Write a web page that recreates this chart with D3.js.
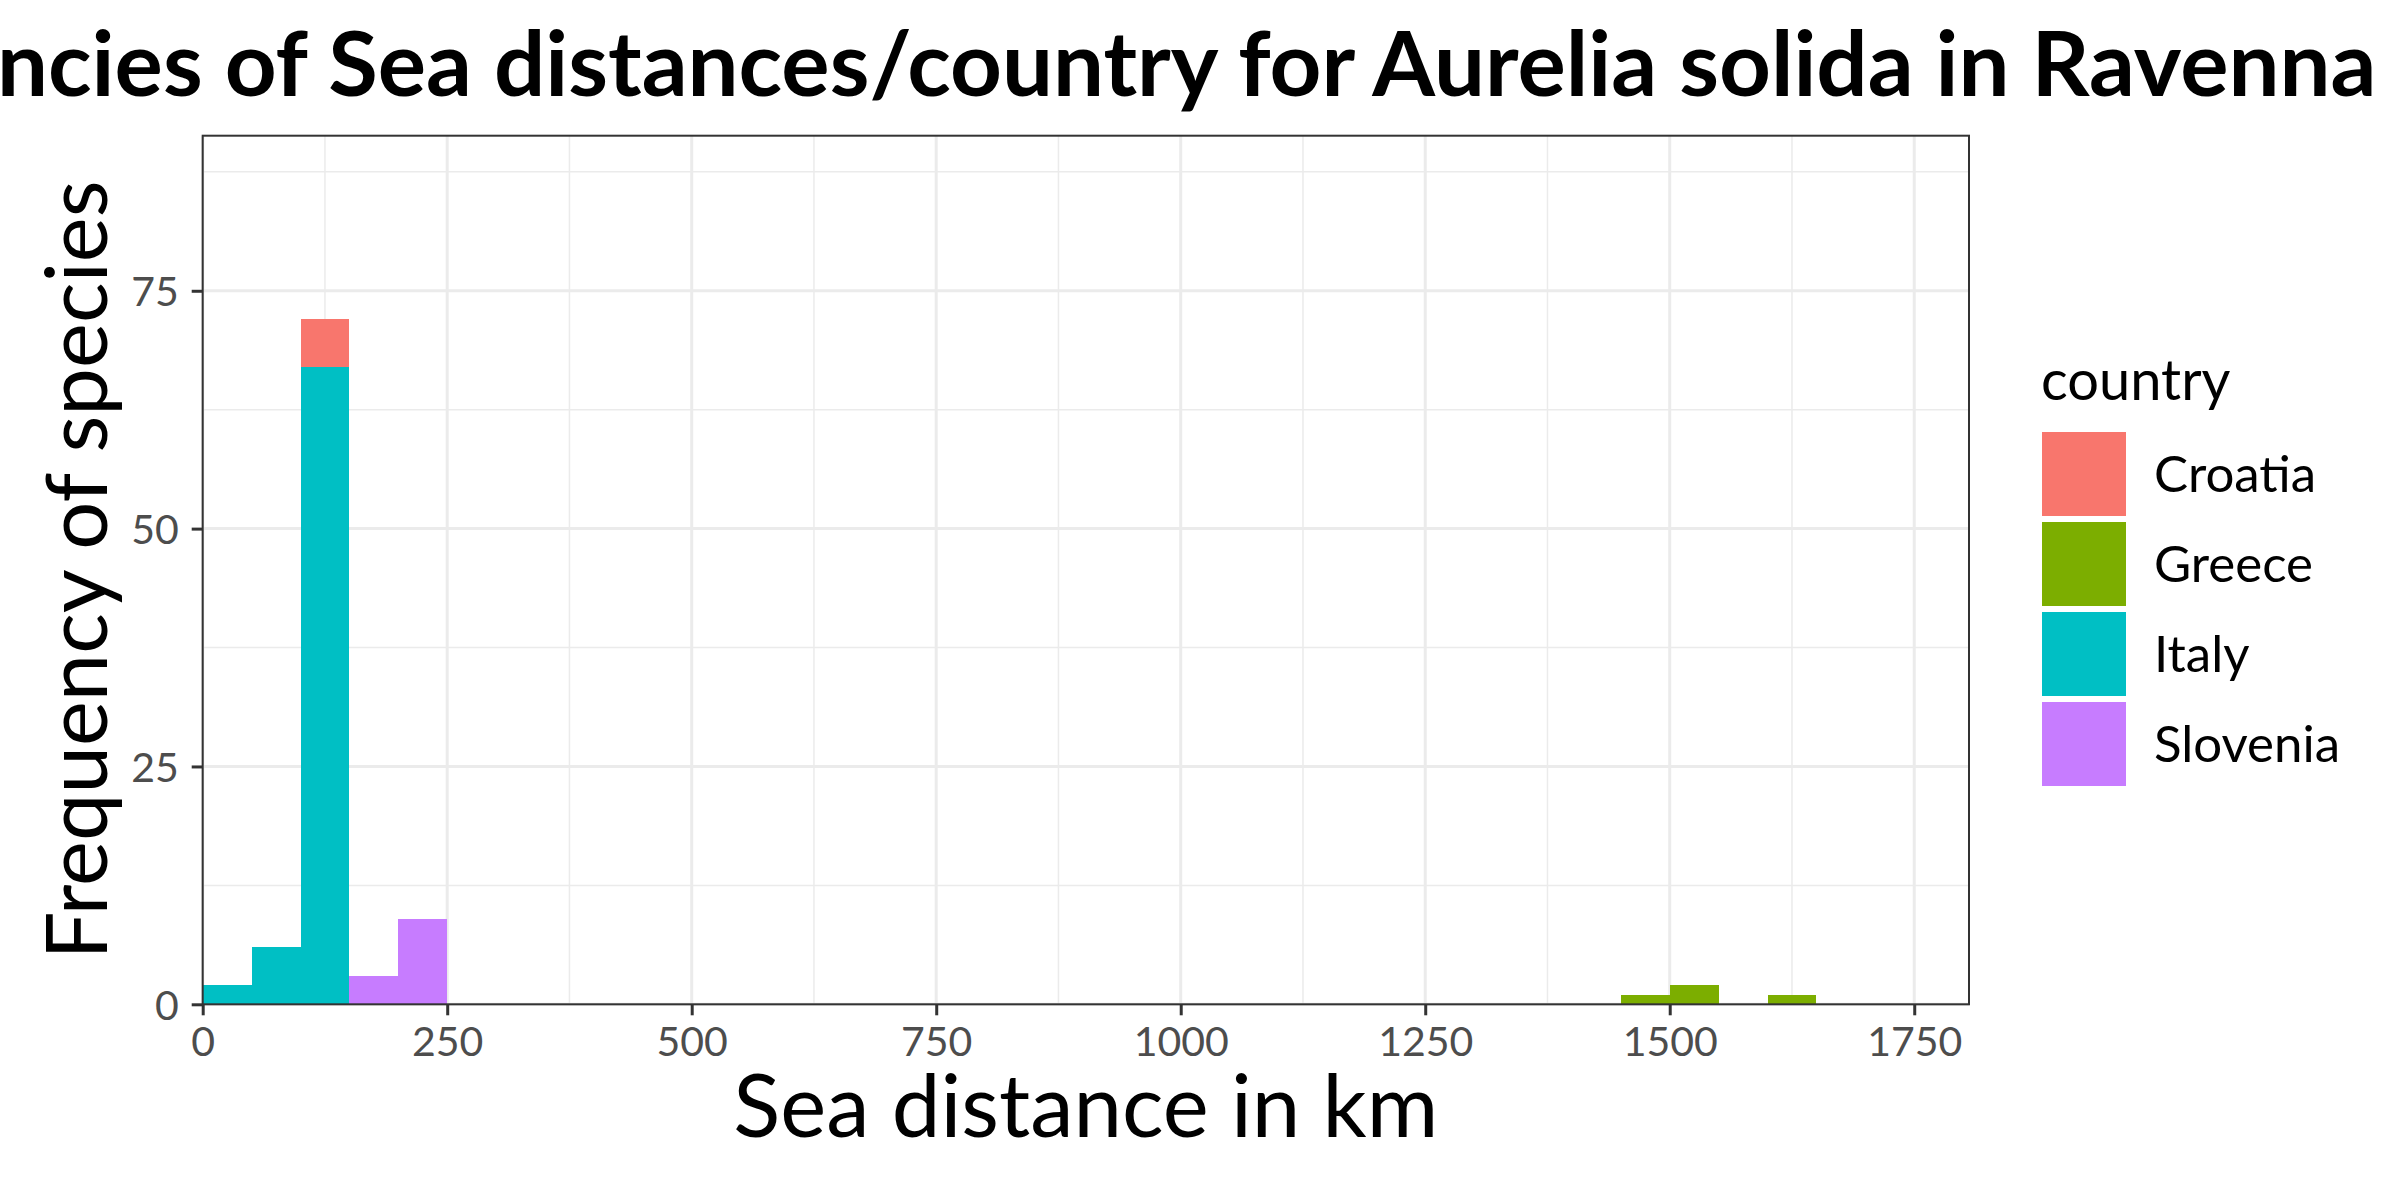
<!DOCTYPE html>
<html>
<head>
<meta charset="utf-8">
<script src="https://cdn.jsdelivr.net/npm/d3@7"></script>
<style>
  html, body { margin: 0; padding: 0; background: #ffffff; }
  svg { display: block; }
</style>
</head>
<body>
<svg id="chart" width="2400" height="1200"></svg>
<script>
// ---- data ----
const binStarts = [0, 50, 100, 150, 200, 1450, 1500, 1600];
const binWidth = 50;
const countries = ["Croatia", "Greece", "Italy", "Slovenia"];
const croatia  = [0, 0, 5, 0, 0, 0, 0, 0];
const greece   = [0, 0, 0, 0, 0, 1, 2, 1];
const italy    = [2, 6, 67, 0, 0, 0, 0, 0];
const slovenia = [0, 0, 0, 3, 9, 0, 0, 0];
const colors = ["#F8766D", "#7CAE00", "#00BFC4", "#C77CFF"];
const xTicks = [0, 250, 500, 750, 1000, 1250, 1500, 1750];
const xMinor = [125, 375, 625, 875, 1125, 1375, 1625];
const yTicks = [0, 25, 50, 75];
const yMinor = [12.5, 37.5, 62.5, 87.5];
const titleText = "Frequencies of Sea distances/country for Aurelia solida in Ravenna";
const xTitle = "Sea distance in km";
const yTitle = "Frequency of species";
const legendTitle = "country";

const FONT = "Lato, 'Open Sans', sans-serif";

const rows = binStarts.map((s, i) => ({
  x0: s, x1: s + binWidth,
  Croatia: croatia[i], Greece: greece[i], Italy: italy[i], Slovenia: slovenia[i]
}));

const svg = d3.select("#chart");
const panel = { left: 202.7, right: 1969, top: 135.7, bottom: 1004.3 };

const x = d3.scaleLinear().domain([0, 1806]).range([panel.left, panel.right]);
const y = d3.scaleLinear().domain([0, 91.3]).range([panel.bottom, panel.top]);
const color = d3.scaleOrdinal().domain(countries).range(colors);

svg.append("rect").attr("width", 2400).attr("height", 1200).attr("fill", "#fff");

// grid
const grid = svg.append("g");
grid.selectAll(".ym").data(yMinor).join("line")
  .attr("x1", panel.left).attr("x2", panel.right)
  .attr("y1", d => y(d)).attr("y2", d => y(d))
  .attr("stroke", "#EBEBEB").attr("stroke-width", 1.5);
grid.selectAll(".xm").data(xMinor).join("line")
  .attr("y1", panel.top).attr("y2", panel.bottom)
  .attr("x1", d => x(d)).attr("x2", d => x(d))
  .attr("stroke", "#EBEBEB").attr("stroke-width", 1.5);
grid.selectAll(".yM").data(yTicks).join("line")
  .attr("x1", panel.left).attr("x2", panel.right)
  .attr("y1", d => y(d)).attr("y2", d => y(d))
  .attr("stroke", "#EBEBEB").attr("stroke-width", 3);
grid.selectAll(".xM").data(xTicks).join("line")
  .attr("y1", panel.top).attr("y2", panel.bottom)
  .attr("x1", d => x(d)).attr("x2", d => x(d))
  .attr("stroke", "#EBEBEB").attr("stroke-width", 3);

// bars (stacked: first level on top)
const stack = d3.stack().keys(countries.slice().reverse());
const series = stack(rows);
svg.append("g").attr("shape-rendering", "crispEdges")
  .selectAll("g").data(series).join("g")
  .attr("fill", d => color(d.key))
  .selectAll("rect").data(d => d.filter(s => s[1] - s[0] > 0)).join("rect")
  .attr("x", d => x(d.data.x0))
  .attr("width", d => x(d.data.x1) - x(d.data.x0))
  .attr("y", d => y(d[1]))
  .attr("height", d => y(d[0]) - y(d[1]));

// panel border
svg.append("rect")
  .attr("x", panel.left).attr("y", panel.top)
  .attr("width", panel.right - panel.left).attr("height", panel.bottom - panel.top)
  .attr("fill", "none").attr("stroke", "#333333").attr("stroke-width", 2);

// axes
const xAxis = d3.axisBottom(x).tickValues(xTicks).tickSize(11).tickPadding(8).tickFormat(d3.format("d"));
const gx = svg.append("g").attr("transform", `translate(0,${panel.bottom})`).call(xAxis);
gx.select(".domain").remove();
gx.selectAll(".tick line").attr("stroke", "#333333").attr("stroke-width", 3);
gx.selectAll(".tick text").attr("fill", "#4D4D4D").attr("font-family", FONT)
  .attr("font-size", 41).attr("dy", null).attr("y", 52);

const yAxis = d3.axisLeft(y).tickValues(yTicks).tickSize(11).tickPadding(8).tickFormat(d3.format("d"));
const gy = svg.append("g").attr("transform", `translate(${panel.left},0)`).call(yAxis);
gy.select(".domain").remove();
gy.selectAll(".tick line").attr("stroke", "#333333").attr("stroke-width", 3);
gy.selectAll(".tick text").attr("fill", "#4D4D4D").attr("font-family", FONT)
  .attr("font-size", 41).attr("dy", "0.36em").attr("x", -24);

// axis titles
svg.append("text").attr("x", (panel.left + panel.right) / 2).attr("y", 1136.7)
  .attr("text-anchor", "middle").attr("font-family", FONT).attr("font-size", 87)
  .attr("fill", "#000").text(xTitle);
svg.append("text")
  .attr("transform", `translate(107.3,${(panel.top + panel.bottom) / 2}) rotate(-90)`)
  .attr("text-anchor", "middle").attr("font-family", FONT).attr("font-size", 85)
  .attr("fill", "#000").text(yTitle);

// title: sized so that its visible part spans the page as in the reference
const title = svg.append("text").attr("y", 95.7)
  .attr("text-anchor", "start").attr("font-family", FONT).attr("font-weight", "bold")
  .attr("font-size", 86).attr("fill", "#000").text(titleText);
const cut = titleText.indexOf("ncies");
const node = title.node();
const visW = node.getSubStringLength(cut, titleText.length - cut);
const fs = 86 * 2380 / visW;
title.attr("font-size", fs);
const pre = node.getSubStringLength(0, cut);
title.attr("x", -3 - pre);

// legend
const lg = svg.append("g");
lg.append("text").attr("x", 2041).attr("y", 400).attr("font-family", FONT)
  .attr("font-size", 56).attr("fill", "#000").text(legendTitle);
const keys = lg.selectAll(".key").data(countries).join("g")
  .attr("transform", (d, i) => `translate(2042,${432 + i * 90})`);
keys.append("rect").attr("width", 84).attr("height", 84).attr("fill", d => color(d));
keys.append("text").attr("x", 112).attr("y", 42 + 18).attr("font-family", FONT)
  .attr("font-size", 51).attr("fill", "#000").text(d => d);
</script>
</body>
</html>
